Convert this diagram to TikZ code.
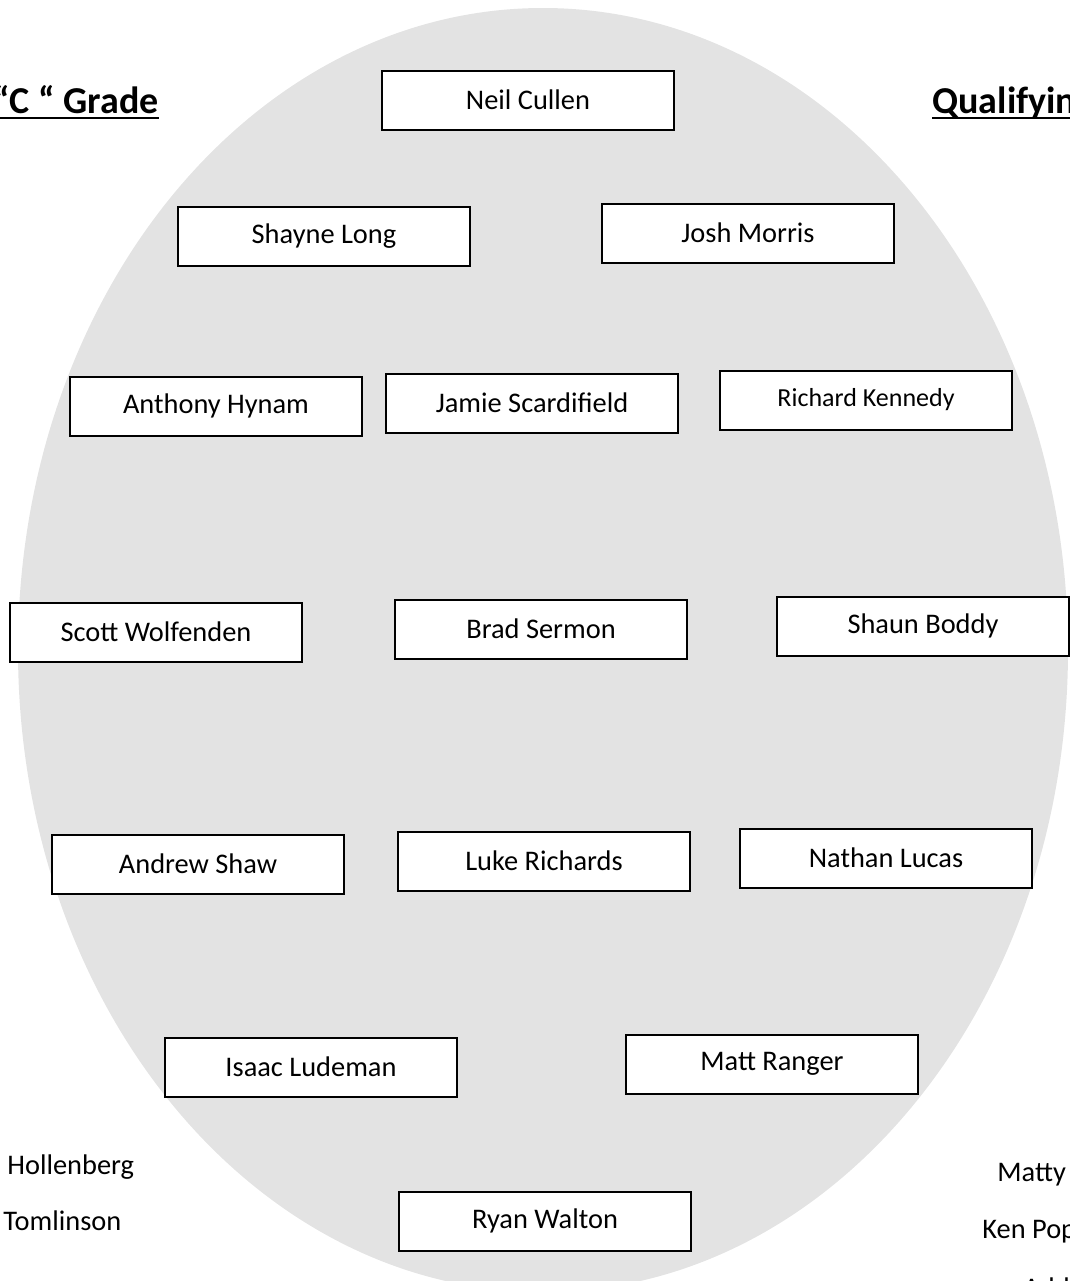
\documentclass[tikz,border=0pt]{standalone}
\usepackage{fontspec}
\setmainfont{Carlito}
\usetikzlibrary{positioning}

\begin{document}
\begin{tikzpicture}[x=0.5pt,y=-0.5pt,
  player/.style={draw,line width=1pt,fill=white,minimum width=146pt,minimum height=29.5pt,inner sep=0pt,font=\fontsize{14.2}{17}\selectfont},
  heading/.style={inner sep=0pt,font=\fontsize{19}{23}\selectfont\bfseries},
  reserve/.style={inner sep=0pt,anchor=base west,font=\fontsize{14.2}{17}\selectfont}]
  \useasboundingbox (0,0) rectangle (1070,1281);
  \clip (0,0) rectangle (1070,1281);
  % the ground
  \fill[black!11] (543,650) ellipse [x radius=262.5pt, y radius=321pt];
  % headings
  \node[heading,anchor=base east](cgrade) at (159,113) {“C “ Grade};
  \node[heading,anchor=base west](qualify) at (932,113) {Qualifying};
  \draw[line width=1.4pt] ([yshift=-2.5pt]cgrade.base west) -- ([yshift=-2.5pt]cgrade.base east);
  \draw[line width=1.4pt] ([yshift=-2.5pt]qualify.base west) -- ([yshift=-2.5pt]qualify.base east);
  % positions
  \node[player](neil) at (528,100) {Neil Cullen};
  \node[player](shayne) at (324,236) {Shayne Long};
  \node[player,right=65pt of shayne,yshift=1.5pt](josh) {Josh Morris};
  \node[player](anthony) at (216,406) {Anthony Hynam};
  \node[player,right=11pt of anthony,yshift=1.5pt](jamie) {Jamie Scardifield};
  \node[player,right=20pt of jamie,yshift=1.5pt,font=\fontsize{13}{16}\selectfont](richard) {Richard Kennedy};
  \node[player](scott) at (156,632) {Scott Wolfenden};
  \node[player,right=45.5pt of scott,yshift=1.5pt](brad) {Brad Sermon};
  \node[player,right=44pt of brad,yshift=1.5pt](shaun) {Shaun Boddy};
  \node[player](andrew) at (198,864) {Andrew Shaw};
  \node[player,right=26pt of andrew,yshift=1.5pt](luke) {Luke Richards};
  \node[player,right=24pt of luke,yshift=1.5pt](nathan) {Nathan Lucas};
  \node[player](isaac) at (311,1067) {Isaac Ludeman};
  \node[player,right=83.5pt of isaac,yshift=1.5pt](matt) {Matt Ranger};
  \node[player](ryan) at (545,1221) {Ryan Walton};
  % names off the ground
  \node[reserve](hollen) at (7,1174) {Hollenberg};
  \node[reserve](tomlin) at (3,1230) {Tomlinson};
  \node[reserve](matty) at (997,1181) {Matty};
  \node[reserve](kenpop) at (982,1238) {Ken Pop};
  \node[reserve](add) at (1023,1297) {Add};
\end{tikzpicture}
\end{document}
